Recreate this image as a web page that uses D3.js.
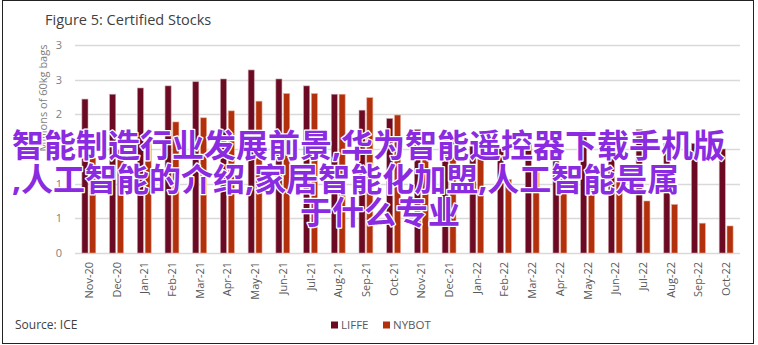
<!DOCTYPE html>
<html>
<head>
<meta charset="utf-8">
<script src="https://cdn.jsdelivr.net/npm/d3@7"></script>
<style>
  html, body { margin: 0; padding: 0; background: #fff; }
  svg { display: block; }
</style>
</head>
<body>
<div id="chart"></div>
<script>
const months = ["Nov-20","Dec-20","Jan-21","Feb-21","Mar-21","Apr-21","May-21","Jun-21","Jul-21","Aug-21","Sep-21","Oct-21",
                "Nov-21","Dec-21","Jan-22","Feb-22","Mar-22","Apr-22","May-22","Jun-22","Jul-22","Aug-22","Sep-22","Oct-22"];
const liffe = [2.22, 2.29, 2.38, 2.41, 2.47, 2.51, 2.64, 2.51, 2.41, 2.29, 2.06, 1.94,
               1.78, 1.62, 1.54, 1.51, 1.59, 1.62, 1.76, 1.50, 1.78, 1.58, 1.58, 1.50];
const nybot = [1.37, 1.49, 1.60, 1.89, 1.95, 2.05, 2.19, 2.30, 2.30, 2.29, 2.24, 1.99,
               1.62, 1.64, 1.37, 1.06, 1.21, 1.18, 1.03, 1.03, 0.75, 0.70, 0.43, 0.39];
const seriesNames = ["LIFFE", "NYBOT"];
const yTicks = [0, 0.5, 1, 1.5, 2, 2.5, 3];
const yTickLabels = ["0", "1", "1", "2", "2", "3", "3"];
const overlayLines = ["智能制造行业发展前景,华为智能遥控器下载手机版",
                      ",人工智能的介绍,家居智能化加盟,人工智能是属",
                      "于什么专业"];

const W = 758, H = 345;
const margin = { top: 45, right: 18, bottom: 92, left: 75 };
const colors = { LIFFE: "#6b0a22", NYBOT: "#b2300c" };
const strokes = { LIFFE: "#c7a0a8", NYBOT: "#e9a891" };
const font = "'Open Sans', 'DejaVu Sans', sans-serif";

const svg = d3.select("#chart").append("svg")
    .attr("width", W)
    .attr("height", H);

// outer frame
svg.append("rect")
    .attr("x", 2.5).attr("y", 0.5)
    .attr("width", 751).attr("height", 343)
    .attr("fill", "none")
    .attr("stroke", "#222");

svg.append("text")
    .attr("x", 45).attr("y", 25)
    .attr("font-family", font)
    .attr("font-size", 14.5)
    .attr("fill", "#404040")
    .text("Figure 5: Certified Stocks");

const x0 = d3.scaleBand()
    .domain(months)
    .range([margin.left, W - margin.right])
    .paddingInner(0.5)
    .paddingOuter(0.25);

const x1 = d3.scaleBand()
    .domain(seriesNames)
    .range([0, x0.bandwidth()])
    .paddingInner(0.22);

const y = d3.scaleLinear()
    .domain([0, 3])
    .range([H - margin.bottom, margin.top]);

// grid
svg.append("g")
    .selectAll("line")
    .data(yTicks)
    .enter().append("line")
    .attr("x1", margin.left)
    .attr("x2", W - margin.right)
    .attr("y1", d => Math.round(y(d)) + 0.5)
    .attr("y2", d => Math.round(y(d)) + 0.5)
    .attr("stroke", "#d9d9d9")
    .attr("stroke-width", 1.3);

// y tick labels
svg.append("g")
    .selectAll("text")
    .data(yTicks)
    .enter().append("text")
    .attr("x", 62)
    .attr("y", d => y(d))
    .attr("dy", "0.35em")
    .attr("text-anchor", "end")
    .attr("font-family", font)
    .attr("font-size", 11)
    .attr("fill", "#808080")
    .text((d, i) => yTickLabels[i]);

svg.append("text")
    .attr("transform", "translate(47,98) rotate(-90)")
    .attr("text-anchor", "middle")
    .attr("font-family", font)
    .attr("font-size", 11)
    .attr("fill", "#808080")
    .text("Millions of 60kg bags");

// bars
const rows = months.map((m, i) => ({ month: m, LIFFE: liffe[i], NYBOT: nybot[i] }));

svg.append("g")
    .selectAll("g")
    .data(rows)
    .enter().append("g")
    .attr("transform", d => `translate(${x0(d.month)},0)`)
    .selectAll("rect")
    .data(d => seriesNames.map(k => ({ key: k, value: d[k] })))
    .enter().append("rect")
    .attr("x", d => x1(d.key))
    .attr("y", d => y(d.value))
    .attr("width", x1.bandwidth())
    .attr("height", d => y(0) - y(d.value))
    .attr("fill", d => colors[d.key])
    .attr("stroke", d => strokes[d.key])
    .attr("stroke-width", 0.6);

// x labels
svg.append("g")
    .selectAll("text")
    .data(months)
    .enter().append("text")
    .attr("transform", d => `translate(${x0(d) + x0.bandwidth() / 2 + 4},262) rotate(-90)`)
    .attr("text-anchor", "end")
    .attr("font-family", font)
    .attr("font-size", 11)
    .attr("fill", "#595959")
    .text(d => d);

// legend
const legend = svg.append("g")
    .selectAll("g")
    .data(seriesNames)
    .enter().append("g")
    .attr("transform", (d, i) => `translate(${331 + i * 52},325)`);

legend.append("rect")
    .attr("x", 0).attr("y", -3.5)
    .attr("width", 7).attr("height", 7)
    .attr("fill", d => colors[d]);

legend.append("text")
    .attr("x", 10)
    .attr("dy", "0.35em")
    .attr("font-family", font)
    .attr("font-size", 11.5)
    .attr("fill", "#595959")
    .text(d => d);

svg.append("text")
    .attr("x", 15).attr("y", 325)
    .attr("dy", "0.35em")
    .attr("font-family", font)
    .attr("font-size", 12)
    .attr("fill", "#404040")
    .text("Source: ICE");

// overlay caption (latin font first so the commas stay narrow)
const overlayPos = [[12, 144], [12, 178.5], [300, 211]];
svg.append("g")
    .selectAll("text")
    .data(overlayLines)
    .enter().append("text")
    .attr("x", (d, i) => overlayPos[i][0])
    .attr("y", (d, i) => overlayPos[i][1])
    .attr("dominant-baseline", "central")
    .attr("font-family", "'Noto Sans', 'Noto Sans CJK SC', sans-serif")
    .attr("font-weight", "bold")
    .attr("font-size", 32)
    .attr("fill", "#8a2be2")
    .attr("stroke", "#fff")
    .attr("stroke-width", 2.5)
    .attr("paint-order", "stroke")
    .attr("stroke-linejoin", "round")
    .text(d => d);
</script>
</body>
</html>
